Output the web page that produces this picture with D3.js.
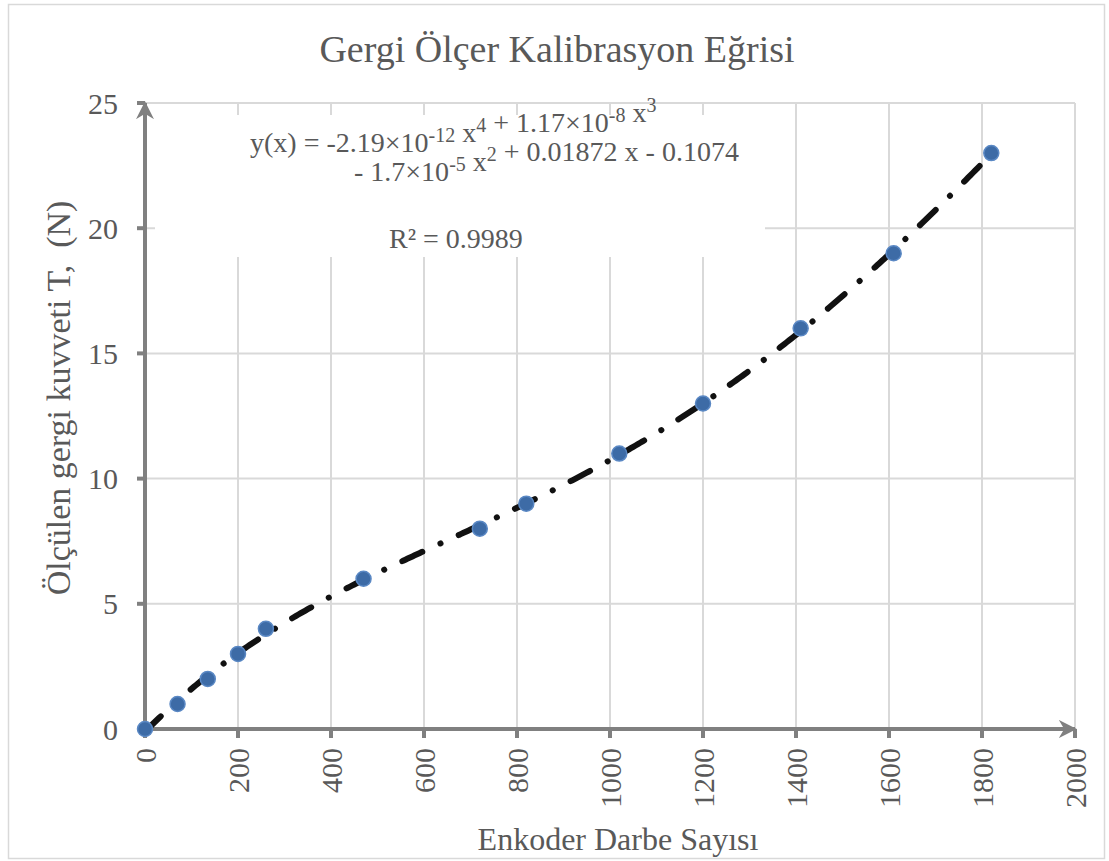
<!DOCTYPE html>
<html>
<head>
<meta charset="utf-8">
<script src="https://cdn.jsdelivr.net/npm/d3@7"></script>
<style>
  body { margin: 0; background: #fff; }
  text { font-family: "Liberation Serif", "Times New Roman", serif; fill: #595959; }
</style>
</head>
<body>
<div id="chart"></div>
<script>
// measured points (encoder pulses -> tension N)
const pulses = [0, 70, 135, 200, 260, 470, 720, 820, 1020, 1200, 1410, 1610, 1820];
const tension = [0, 1, 2, 3, 4, 6, 8, 9, 11, 13, 16, 19, 23];
const xTicks = [0, 200, 400, 600, 800, 1000, 1200, 1400, 1600, 1800, 2000];
const yTicks = [0, 5, 10, 15, 20, 25];

const w = 1109, h = 861;
const x = d3.scaleLinear().domain([0, 2000]).range([145, 1075]);
const y = d3.scaleLinear().domain([0, 25]).range([729, 103]);

const svg = d3.select('#chart').append('svg').attr('width', w).attr('height', h);

// outer frame
svg.append('rect')
  .attr('x', 8.5).attr('y', 4.5).attr('width', 1096).attr('height', 854)
  .attr('fill', 'none').attr('stroke', '#d9d9d9').attr('stroke-width', 1.5);

// gridlines
svg.append('g').selectAll('line').data(xTicks.slice(1)).join('line')
  .attr('x1', d => x(d)).attr('x2', d => x(d))
  .attr('y1', y(0)).attr('y2', y(25))
  .attr('stroke', '#d9d9d9').attr('stroke-width', 2);
svg.append('g').selectAll('line').data(yTicks.slice(1)).join('line')
  .attr('x1', x(0)).attr('x2', x(2000))
  .attr('y1', d => y(d)).attr('y2', d => y(d))
  .attr('stroke', '#d9d9d9').attr('stroke-width', 2);

// polynomial (4th order) least squares fit, like the spreadsheet trendline
function polyfit(xs, ys, order) {
  const n = order + 1, s = 1000;
  const A = [], b = [];
  for (let i = 0; i < n; i++) {
    A.push(new Array(n).fill(0));
    b.push(0);
  }
  xs.forEach((xv, k) => {
    const t = xv / s;
    for (let i = 0; i < n; i++) {
      for (let j = 0; j < n; j++) A[i][j] += Math.pow(t, i + j);
      b[i] += ys[k] * Math.pow(t, i);
    }
  });
  for (let c = 0; c < n; c++) {
    let p = c;
    for (let r = c + 1; r < n; r++) if (Math.abs(A[r][c]) > Math.abs(A[p][c])) p = r;
    [A[c], A[p]] = [A[p], A[c]];
    [b[c], b[p]] = [b[p], b[c]];
    for (let r = c + 1; r < n; r++) {
      const f = A[r][c] / A[c][c];
      for (let j = c; j < n; j++) A[r][j] -= f * A[c][j];
      b[r] -= f * b[c];
    }
  }
  const coef = new Array(n).fill(0);
  for (let i = n - 1; i >= 0; i--) {
    let sum = b[i];
    for (let j = i + 1; j < n; j++) sum -= A[i][j] * coef[j];
    coef[i] = sum / A[i][i];
  }
  return (xv) => coef.reduce((acc, c, i) => acc + c * Math.pow(xv / s, i), 0);
}
const fit = polyfit(pulses, tension, 4);
const fitX = d3.range(0, d3.max(pulses) + 1, 5);

// equation box (white background hides the grid)
svg.append('rect')
  .attr('x', 155).attr('y', 115).attr('width', 610).attr('height', 142)
  .attr('fill', '#fff');

// axes
const axisColor = '#808080';
const defs = svg.append('defs');
defs.append('marker')
  .attr('id', 'arrow').attr('viewBox', '0 0 10 10')
  .attr('refX', 9).attr('refY', 5)
  .attr('markerWidth', 4.5).attr('markerHeight', 4.5)
  .attr('orient', 'auto')
  .append('path').attr('d', 'M0,0 L10,5 L0,10 L3,5 Z').attr('fill', axisColor);

svg.append('line')
  .attr('x1', x(0)).attr('x2', x(2000)).attr('y1', y(0)).attr('y2', y(0))
  .attr('stroke', axisColor).attr('stroke-width', 4)
  .attr('marker-end', 'url(#arrow)');
svg.append('line')
  .attr('x1', x(0)).attr('x2', x(0)).attr('y1', y(0)).attr('y2', y(25))
  .attr('stroke', axisColor).attr('stroke-width', 4)
  .attr('marker-end', 'url(#arrow)');

// ticks
svg.append('g').selectAll('line').data(xTicks).join('line')
  .attr('x1', d => x(d)).attr('x2', d => x(d))
  .attr('y1', y(0)).attr('y2', y(0) + 9)
  .attr('stroke', axisColor).attr('stroke-width', 4);
svg.append('g').selectAll('line').data(yTicks).join('line')
  .attr('x1', x(0) - 8).attr('x2', x(0))
  .attr('y1', d => y(d)).attr('y2', d => y(d))
  .attr('stroke', axisColor).attr('stroke-width', 4);

// tick labels
svg.append('g').selectAll('text').data(yTicks).join('text')
  .attr('x', 118).attr('y', d => y(d))
  .attr('dy', '0.35em')
  .attr('text-anchor', 'end')
  .style('font-size', '30px')
  .text(d => d);
svg.append('g').selectAll('text').data(xTicks).join('text')
  .attr('transform', d => `translate(${x(d)},748) rotate(-90)`)
  .attr('dy', '0.35em')
  .attr('text-anchor', 'end')
  .style('font-size', '30px')
  .text(d => d);

// trendline
svg.append('path')
  .datum(fitX)
  .attr('fill', 'none')
  .attr('stroke', '#111')
  .attr('stroke-width', 6)
  .attr('stroke-linecap', 'round')
  .attr('stroke-dasharray', '22,20,0.1,20')
  .attr('d', d3.line().x(d => x(d)).y(d => y(fit(d))));

// points
svg.append('g').selectAll('circle').data(pulses).join('circle')
  .attr('cx', d => x(d))
  .attr('cy', (d, i) => y(tension[i]))
  .attr('r', 7.5)
  .attr('fill', '#3d6ba6')
  .attr('stroke', '#5a88c4')
  .attr('stroke-width', 1.5);

// title and axis labels
svg.append('text')
  .attr('x', 557).attr('y', 62)
  .attr('text-anchor', 'middle')
  .style('font-size', '38px')
  .text('Gergi Ölçer Kalibrasyon Eğrisi');

svg.append('text')
  .attr('x', 618).attr('y', 850)
  .attr('text-anchor', 'middle')
  .style('font-size', '32px')
  .text('Enkoder Darbe Sayısı');

svg.append('text')
  .attr('transform', 'translate(70,398) rotate(-90)')
  .attr('text-anchor', 'middle')
  .style('font-size', '34px')
  .style('white-space', 'pre')
  .text('Ölçülen gergi kuvveti T,\u00a0 (N)');

// equation text
const eq = svg.append('g').style('font-size', '28px');
function sup(t, s) {
  t.append('tspan').attr('dy', -10).style('font-size', '20px').text(s);
  t.append('tspan').attr('dy', 10).text('');
}
const l1 = eq.append('text').attr('x', 250).attr('y', 152);
l1.append('tspan').text('y(x) = -2.19×10');
sup(l1, '-12');
l1.append('tspan').text('\u00a0x');
sup(l1, '4');
l1.append('tspan').text(' + 1.17×10');
sup(l1, '-8');
l1.append('tspan').text('\u00a0x');
sup(l1, '3');

const l2 = eq.append('text').attr('x', 354).attr('y', 181);
l2.append('tspan').text('- 1.7×10');
sup(l2, '-5');
l2.append('tspan').text('\u00a0x');
sup(l2, '2');
l2.append('tspan').text(' + 0.01872 x - 0.1074');

eq.append('text').attr('x', 389).attr('y', 248).text('R² = 0.9989');
</script>
</body>
</html>
